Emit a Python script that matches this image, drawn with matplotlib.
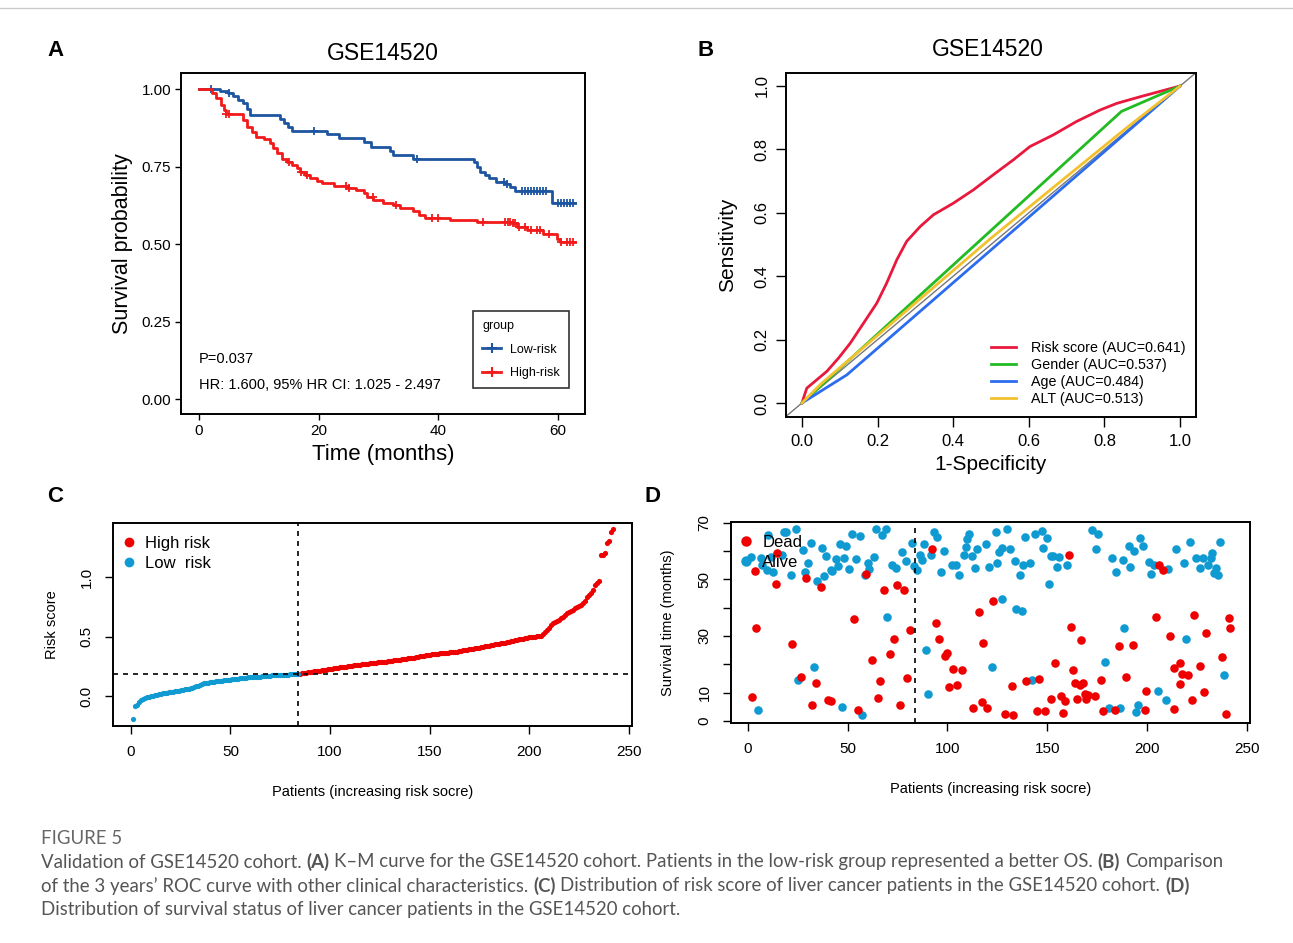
import numpy as np
import matplotlib
matplotlib.use('Agg')
import matplotlib.pyplot as plt
from matplotlib.lines import Line2D

plt.rcParams['font.family'] = ['Liberation Sans', 'DejaVu Sans']

# ---------------- data ----------------
# A: Kaplan-Meier steps (event time in months, survival after the step) and censor times
low_event_t = [3.5, 4.8, 5.7, 6.6, 7.4, 8.0, 8.6, 13.6, 14.2, 14.9, 15.5, 21.4, 23.4, 27.5,
               28.8, 31.9, 32.5, 35.8, 45.9, 46.4, 47.0, 47.8, 48.4, 49.7, 51.2, 52.0, 52.8, 59.0]
low_event_s = [0.995, 0.99, 0.978, 0.967, 0.956, 0.937, 0.917, 0.906, 0.893, 0.88, 0.866, 0.856,
               0.844, 0.829, 0.813, 0.802, 0.790, 0.777, 0.767, 0.750, 0.734, 0.724, 0.713, 0.702,
               0.695, 0.684, 0.673, 0.635]
low_cens_t = [2.0, 5.0, 19.2, 36.5, 51.0, 51.5, 54.0, 54.5, 55.0, 55.5, 56.0, 56.5, 57.0, 57.5,
              58.0, 60.0, 60.5, 61.0, 61.5, 62.0, 62.5]
high_event_t = [2.2, 2.8, 3.6, 4.2, 4.5, 7.4, 8.0, 8.8, 9.6, 10.8, 11.9, 12.4, 13.0, 13.8, 14.7,
                15.5, 16.3, 16.9, 17.7, 18.5, 19.7, 20.5, 22.5, 24.7, 26.3, 27.5, 28.0, 29.1,
                30.8, 32.5, 33.6, 35.8, 36.7, 37.8, 42.0, 46.4, 52.2, 53.1, 54.8, 57.5, 59.8, 60.3]
high_event_s = [0.989, 0.971, 0.949, 0.935, 0.922, 0.901, 0.880, 0.863, 0.847, 0.839, 0.826, 0.810,
                0.794, 0.777, 0.767, 0.756, 0.745, 0.734, 0.724, 0.713, 0.705, 0.697, 0.688, 0.681,
                0.675, 0.665, 0.654, 0.643, 0.634, 0.627, 0.616, 0.609, 0.595, 0.584, 0.578, 0.573,
                0.568, 0.557, 0.546, 0.535, 0.519, 0.508]
high_cens_t = [4.5, 5.0, 15.0, 17.0, 18.0, 24.5, 25.0, 29.0, 33.0, 39.0, 40.0, 47.5, 51.2, 51.6,
               52.0, 52.4, 52.8, 53.5, 54.5, 55.5, 56.5, 57.0, 58.5, 60.5, 61.5, 62.0, 62.5]
km_end = 62.8
km_groups = ['Low-risk', 'High-risk']

# B: ROC curves (1-specificity, sensitivity)
roc_labels = ['Risk score (AUC=0.641)', 'Gender (AUC=0.537)', 'Age (AUC=0.484)', 'ALT (AUC=0.513)']
risk_fpr = [0, 0.013, 0.04, 0.066, 0.097, 0.128, 0.163, 0.198, 0.224, 0.251, 0.277, 0.313, 0.348,
            0.4, 0.453, 0.506, 0.559, 0.603, 0.665, 0.726, 0.788, 0.832, 0.894, 1.0]
risk_tpr = [0, 0.047, 0.074, 0.1, 0.142, 0.189, 0.252, 0.315, 0.378, 0.452, 0.51, 0.557, 0.594,
            0.63, 0.672, 0.72, 0.767, 0.809, 0.846, 0.888, 0.924, 0.945, 0.966, 1.0]
gender_fpr = [0, 0.845, 1.0]
gender_tpr = [0, 0.92, 1.0]
age_fpr = [0, 0.119, 1.0]
age_tpr = [0, 0.089, 1.0]
alt_fpr = [0, 0.05, 0.5, 0.85, 1.0]
alt_tpr = [0, 0.06, 0.52, 0.86, 1.0]

# C: sorted risk scores
risk_cutoff = 0.188
risk_score = [
    -0.19, -0.085, -0.075, -0.05, -0.035, -0.025, -0.02, -0.012, -0.008, -0.003,
    0.0, 0.005, 0.01, 0.014, 0.018, 0.022, 0.025, 0.028, 0.031, 0.034,
    0.037, 0.040, 0.043, 0.046, 0.049, 0.052, 0.055, 0.057, 0.060, 0.064,
    0.070, 0.076, 0.082, 0.088, 0.094, 0.100, 0.106, 0.110, 0.113, 0.116,
    0.119, 0.122, 0.124, 0.126, 0.128, 0.130, 0.132, 0.134, 0.136, 0.138,
    0.140, 0.142, 0.144, 0.146, 0.148, 0.150, 0.152, 0.154, 0.156, 0.157,
    0.158, 0.160, 0.161, 0.162, 0.164, 0.165, 0.166, 0.168, 0.169, 0.171,
    0.173, 0.174, 0.175, 0.176, 0.177, 0.178, 0.179, 0.180, 0.181, 0.182,
    0.184, 0.185, 0.186, 0.187,
    0.189, 0.192, 0.194, 0.197, 0.199, 0.202, 0.204, 0.207, 0.209, 0.212,
    0.214, 0.217, 0.219, 0.222, 0.225, 0.228,
    0.230, 0.233, 0.235, 0.238, 0.240, 0.243, 0.245, 0.248, 0.250, 0.252, 0.255, 0.257, 0.260, 0.262,
    0.264, 0.266, 0.268, 0.270, 0.272, 0.274, 0.276, 0.278, 0.280, 0.282, 0.284, 0.286, 0.288, 0.290,
    0.292, 0.295, 0.297, 0.299, 0.302, 0.304, 0.306, 0.309, 0.311, 0.313, 0.316, 0.318,
    0.321, 0.324, 0.327, 0.330, 0.333, 0.336, 0.339, 0.342, 0.345, 0.348, 0.351, 0.354,
    0.356, 0.357, 0.359, 0.361, 0.362, 0.364, 0.366, 0.367, 0.369, 0.371, 0.372, 0.374,
    0.377, 0.380, 0.383, 0.386, 0.389, 0.392, 0.395, 0.398, 0.401, 0.404, 0.408, 0.411,
    0.414, 0.417, 0.421, 0.424, 0.427, 0.431, 0.434, 0.437, 0.440, 0.443, 0.447, 0.450,
    0.454, 0.457, 0.461, 0.465, 0.468, 0.472, 0.476, 0.479, 0.483, 0.487,
    0.490, 0.493, 0.495, 0.498, 0.500, 0.503, 0.506, 0.509,
    0.520, 0.535, 0.555, 0.575, 0.595, 0.613,
    0.625, 0.635, 0.641, 0.655, 0.668, 0.682, 0.697, 0.705,
    0.715, 0.725, 0.739, 0.748, 0.758, 0.768, 0.781, 0.795,
    0.830, 0.851, 0.865, 0.893, 0.930, 0.950, 0.965, 1.185, 1.190, 1.200, 1.285, 1.300, 1.383, 1.403]

# D: survival time by patient (alive / dead)
alive_x = [1.6, 10.4, 6.6, 7.4, 9.9, 11.6, 17.4, 18.3, 19.4, 24.1, 12.8, 21.6, 27.8, 31.6, 30.4,
           28.6, 37.4, 39.4, 34.9, 38.3, 41.6, 33.3, 25.4, 5.4,
           52.4, 56.1, 64.1, 69.1, 67.1, 46.1, 49.4, 44.1, 48.3, 54.1, 45.4, 42.4, 50.8, 60.3,
           63.3, 58.8, 60.8, 72.1, 74.1, 77.1, 79.1, 82.1, 83.3, 84.9, 86.1, 87.4, 88.3, 91.6,
           93.3, 94.9, 96.6, 69.9, 89.1, 47.1, 57.4, 90.4,
           98.3, 105.8, 102.1, 104.1, 110.8, 109.9, 109.1, 108.3, 112.1, 114.9, 119.1, 113.8,
           124.1, 129.9, 120.8, 124.9, 125.8, 127.4, 131.1, 133.8, 136.1, 137.8, 141.1, 138.8,
           143.8, 147.1, 147.8, 149.9, 150.8, 151.6, 127.1, 134.4, 137.1, 122.1, 142.4,
           152.8, 155.8, 154.9, 159.9, 172.4, 175.4, 174.4, 182.1, 184.4, 187.8, 190.8, 193.3,
           196.6, 197.8, 191.6, 200.8, 202.1, 203.3, 188.6, 178.8, 180.8, 186.6, 195.4, 194.4,
           205.4, 210.5, 214.4, 218.4, 221.4, 224.3, 226.3, 227.9, 230.3, 231.9, 232.3, 233.3,
           234.6, 235.2, 236.2, 219.4, 238.2, 209.5]
alive_y = [57.9, 65.5, 57.5, 55.0, 53.2, 57.9, 58.5, 66.5, 66.7, 67.9, 52.4, 51.6, 60.2, 62.9, 55.9,
           52.5, 61.1, 58.2, 49.3, 51.2, 53.2, 19.1, 14.4, 3.8,
           66.1, 65.3, 67.7, 67.7, 65.5, 62.6, 61.8, 57.3, 57.5, 57.3, 54.7, 52.8, 53.5, 55.9,
           57.9, 51.6, 53.5, 55.2, 54.0, 59.7, 56.4, 62.9, 54.7, 53.2, 58.5, 56.7, 62.3, 58.5,
           66.5, 64.9, 52.4, 36.7, 25.2, 4.9, 2.2, 9.6,
           59.9, 51.4, 55.0, 55.2, 65.8, 64.1, 61.4, 58.7, 58.2, 60.6, 62.3, 53.8,
           66.7, 67.9, 54.4, 55.6, 59.5, 60.9, 60.6, 56.4, 51.4, 55.2, 55.9, 64.9,
           65.8, 66.9, 61.1, 64.7, 48.5, 58.2, 42.9, 39.6, 38.7, 19.1, 14.3,
           58.2, 57.9, 54.3, 54.9, 67.3, 65.8, 60.8, 57.5, 52.4, 56.7, 61.8, 59.9,
           64.6, 61.8, 54.3, 56.1, 52.0, 54.9, 32.9, 20.8, 4.6, 4.6, 5.6, 3.2,
           10.5, 53.5, 60.7, 55.9, 63.1, 57.4, 53.9, 57.4, 55.1, 57.4, 59.4, 52.1,
           53.9, 51.5, 63.3, 28.8, 16.3, 7.4]
dead_x = [3.6, 14.6, 14.4, 29.4, 36.6, 4.4, 22.4, 26.6, 34.4, 2.4, 32.4, 40.4,
          59.1, 92.1, 68.3, 74.9, 78.3, 53.3, 81.1, 94.1, 95.8, 73.3, 71.1, 62.4, 66.1, 79.9,
          65.3, 41.6, 55.3, 76.1,
          122.8, 115.8, 99.9, 98.8, 117.9, 102.8, 107.1, 100.8, 104.9, 132.1, 139.4, 145.8,
          112.8, 117.1, 119.9, 128.8, 132.8, 144.9, 148.8,
          160.8, 206.1, 161.6, 166.6, 204.4, 185.8, 192.8, 153.8, 162.8, 189.4, 176.6, 163.8,
          166.1, 167.8, 168.8, 170.4, 173.8, 169.4, 164.9, 156.6, 151.6, 158.8, 157.8, 177.8,
          183.8, 198.8, 199.4,
          208.1, 211.5, 223.3, 229.2, 241.1, 241.6, 237.2, 216.5, 213.5, 226.2, 217.4, 220.4,
          216.3, 228.3, 213.5, 222.4, 239.2]
dead_y = [52.9, 59.1, 48.5, 50.5, 47.3, 32.8, 27.3, 15.5, 13.5, 8.5, 5.8, 7.3,
          52.0, 60.8, 46.1, 48.1, 46.1, 36.1, 32.0, 34.7, 28.8, 29.0, 23.5, 21.4, 14.1, 15.3,
          8.1, 6.9, 3.8, 5.6,
          42.2, 38.3, 24.1, 22.9, 27.6, 18.2, 17.9, 12.0, 12.8, 12.4, 14.0, 14.9,
          4.6, 6.7, 4.6, 2.6, 2.0, 3.4, 3.4,
          58.5, 55.2, 33.2, 28.5, 36.7, 26.6, 26.9, 20.5, 18.0, 15.5, 14.3, 13.5,
          12.8, 13.5, 9.7, 9.3, 9.0, 7.8, 7.6, 9.0, 7.8, 7.2, 2.9, 3.5,
          3.8, 3.8, 10.5,
          53.3, 30.1, 37.4, 30.9, 36.5, 32.7, 22.7, 20.5, 18.7, 19.5, 16.5, 16.3,
          12.9, 10.1, 4.1, 7.4, 2.4]
n_low = 84

# ---------------- style ----------------
W, H = 1293, 943
KM_BLUE = '#1D55A0'
KM_RED = '#F21A1A'
ROC_COLORS = ['#E8193C', '#22BB22', '#2C6CF0', '#F2C12E']
PT_RED = '#EE0000'
PT_CYAN = '#0F9BD2'
CAP_COLOR = '#555555'

fig = plt.figure(figsize=(W / 100, H / 100), dpi=100)


def px_axes(left, top, right, bottom):
    return fig.add_axes([left / W, 1 - bottom / H, (right - left) / W, (bottom - top) / H])


def surv_at(times, t_events, s_events):
    idx = np.searchsorted(t_events, times, side='right')
    s = np.array([1.0] + list(s_events))
    return s[idx]


def base_style(ax, size, length, pad):
    for sp in ax.spines.values():
        sp.set_linewidth(1.4)
    ax.tick_params(direction='out', length=length, width=1, labelsize=size, pad=pad)


# ---------------- A: KM ----------------
axA = px_axes(181, 73, 585, 414)
for ev_t, ev_s, c_t, col in [(low_event_t, low_event_s, low_cens_t, KM_BLUE),
                             (high_event_t, high_event_s, high_cens_t, KM_RED)]:
    tt = [0] + ev_t + [km_end]
    ss = [1.0] + ev_s + [ev_s[-1]]
    axA.step(tt, ss, where='post', color=col, lw=2)
    axA.plot(c_t, surv_at(c_t, ev_t, ev_s), '+', color=col, ms=6, mew=1.3)
axA.set_xlim(-3, 64.5)
axA.set_ylim(-0.047, 1.053)
axA.set_xticks([0, 20, 40, 60])
axA.set_yticks([0, 0.25, 0.5, 0.75, 1.0])
axA.set_yticklabels(['0.00', '0.25', '0.50', '0.75', '1.00'])
base_style(axA, 11, 4, 3)
axA.set_ylabel('Survival probability', fontsize=15.5)
axA.yaxis.set_label_coords(-0.146, 0.5)
axA.yaxis.label.set_va('center')
axA.set_xlabel('Time (months)', fontsize=16)
axA.xaxis.set_label_coords(0.5, -0.120)
axA.xaxis.label.set_va('center')
axA.text(0.5, 1.058, 'GSE14520', transform=axA.transAxes, ha='center', va='center', fontsize=16.5)
axA.text(0, 0.132, 'P=0.037', fontsize=10.5, va='center')
axA.text(0, 0.046, 'HR: 1.600, 95% HR CI: 1.025 - 2.497', fontsize=10.5, va='center')
km_handles = [Line2D([], [], color=KM_BLUE, lw=2, marker='+', ms=7, mew=1.5),
              Line2D([], [], color=KM_RED, lw=2, marker='+', ms=7, mew=1.5)]
legA = axA.legend(km_handles, km_groups, title='group', loc='upper left',
                  bbox_to_anchor=(0.723, 0.302), fontsize=9, title_fontsize=9,
                  frameon=True, fancybox=False, edgecolor='black', borderpad=0.75,
                  labelspacing=0.9, handlelength=1.5, handletextpad=0.7, borderaxespad=0,
                  alignment='left')
legA.get_frame().set_linewidth(1.2)

# ---------------- B: ROC ----------------
axB = px_axes(786, 73, 1196, 417)
axB.axline((0, 0), (1, 1), color='#777777', lw=1)
roc_data = [(risk_fpr, risk_tpr), (gender_fpr, gender_tpr), (age_fpr, age_tpr), (alt_fpr, alt_tpr)]
for (fx, fy), col, lab in zip(roc_data, ROC_COLORS, roc_labels):
    axB.plot(fx, fy, color=col, lw=2, label=lab)
axB.set_xlim(-0.042, 1.042)
axB.set_ylim(-0.044, 1.041)
ticks = [0, 0.2, 0.4, 0.6, 0.8, 1.0]
axB.set_xticks(ticks)
axB.set_yticks(ticks)
axB.set_xticklabels([f'{v:.1f}' for v in ticks])
axB.set_yticklabels([f'{v:.1f}' for v in ticks])
base_style(axB, 12, 7, 5)
axB.tick_params(axis='y', labelrotation=90)
plt.setp(axB.get_yticklabels(), va='center')
axB.set_ylabel('Sensitivity', fontsize=15)
axB.yaxis.set_label_coords(-0.1415, 0.5)
axB.yaxis.label.set_va('center')
axB.set_xlabel('1-Specificity', fontsize=15)
axB.xaxis.set_label_coords(0.5, -0.1395)
axB.xaxis.label.set_va('center')
axB.text(0.493, 1.067, 'GSE14520', transform=axB.transAxes, ha='center', va='center', fontsize=16.5)
axB.legend(loc='lower right', frameon=False, fontsize=10.3, handlelength=1.8,
           labelspacing=0.22, borderaxespad=0.35, handletextpad=1.0)

# ---------------- C: risk score ----------------
axC = px_axes(113, 523, 632, 726)
patients = np.arange(1, len(risk_score) + 1)
scores = np.array(risk_score)
is_high = scores > risk_cutoff
axC.scatter(patients[is_high], scores[is_high], s=14, color=PT_RED, lw=0)
axC.scatter(patients[~is_high], scores[~is_high], s=14, color=PT_CYAN, lw=0)
axC.axvline(n_low, color='black', lw=1.2, ls=(0, (3, 3)))
axC.axhline(risk_cutoff, color='black', lw=1.2, ls=(0, (3, 3)))
axC.set_xlim(-8.9, 251.6)
axC.set_ylim(-0.252, 1.455)
axC.set_xticks([0, 50, 100, 150, 200, 250])
axC.set_yticks([0.0, 0.5, 1.0])
axC.set_yticklabels(['0.0', '0.5', '1.0'])
base_style(axC, 11, 6, 8)
axC.tick_params(axis='y', labelrotation=90)
plt.setp(axC.get_yticklabels(), va='center')
axC.set_ylabel('Risk score', fontsize=10.5)
axC.yaxis.set_label_coords(-0.1175, 0.5)
axC.yaxis.label.set_va('center')
axC.set_xlabel('Patients (increasing risk socre)', fontsize=10.5)
axC.xaxis.set_label_coords(0.5, -0.325)
axC.xaxis.label.set_va('center')
c_handles = [Line2D([], [], ls='none', marker='o', ms=6, color=PT_RED),
             Line2D([], [], ls='none', marker='o', ms=6, color=PT_CYAN)]
axC.legend(c_handles, ['High risk', 'Low  risk'], loc='upper left', bbox_to_anchor=(0.015, 0.935),
           frameon=False, fontsize=12, borderaxespad=0, borderpad=0, handlelength=1.0,
           handletextpad=0.45, labelspacing=0.3)

# ---------------- D: survival status ----------------
axD = px_axes(731, 522, 1250, 723)
axD.scatter(alive_x, alive_y, s=38, color=PT_CYAN, lw=0)
axD.scatter(dead_x, dead_y, s=38, color=PT_RED, lw=0)
axD.axvline(n_low, color='black', lw=1.2, ls=(0, (3, 3)))
axD.set_xlim(-8.3, 251.4)
axD.set_ylim(-0.7, 70.2)
axD.set_xticks([0, 50, 100, 150, 200, 250])
axD.set_yticks([0, 10, 20, 30, 40, 50, 60, 70])
axD.set_yticklabels(['0', '10', '', '30', '', '50', '', '70'])
base_style(axD, 11, 6, 8)
axD.tick_params(axis='y', labelrotation=90)
plt.setp(axD.get_yticklabels(), va='center')
axD.set_ylabel('Survival time (months)', fontsize=10.5)
axD.yaxis.set_label_coords(-0.1207, 0.5)
axD.yaxis.label.set_va('center')
axD.set_xlabel('Patients (increasing risk socre)', fontsize=10.5)
axD.xaxis.set_label_coords(0.5, -0.328)
axD.xaxis.label.set_va('center')
d_handles = [Line2D([], [], ls='none', marker='o', ms=6.5, color=PT_RED),
             Line2D([], [], ls='none', marker='o', ms=6.5, color=PT_CYAN)]
axD.legend(d_handles, ['Dead', 'Alive'], loc='upper left', bbox_to_anchor=(0.012, 0.935),
           frameon=False, fontsize=12, borderaxespad=0, borderpad=0, handlelength=1.0,
           handletextpad=0.5, labelspacing=0.3)

# ---------------- panel letters, rule, caption ----------------
for letter, x, y in [('A', 55, 50), ('B', 706, 50), ('C', 55, 497), ('D', 652, 497)]:
    fig.text(x / W, 1 - y / H, letter, fontsize=16, fontweight='bold', ha='center', va='center')

fig.add_artist(Line2D([0, 1], [1 - 8 / H, 1 - 8 / H], color='#cccccc', lw=1))

CAP_FONT = ['Lato', 'DejaVu Sans']
cap_lines = [
    [('Validation of GSE14520 cohort.', False), ('(A)', True),
     ('K–M curve for the GSE14520 cohort. Patients in the low-risk group represented a better OS.', False),
     ('(B)', True), ('Comparison', False)],
    [('of the 3 years’ ROC curve with other clinical characteristics.', False), ('(C)', True),
     ('Distribution of risk score of liver cancer patients in the GSE14520 cohort.', False), ('(D)', True)],
    [('Distribution of survival status of liver cancer patients in the GSE14520 cohort.', False)],
]
cap_y = [862, 886, 910]
renderer = fig.canvas.get_renderer()


def draw_runs(runs, x_px, y_px, size):
    a = fig.text(0, 0, 'x x', fontsize=size, family=CAP_FONT)
    b = fig.text(0, 0, 'xx', fontsize=size, family=CAP_FONT)
    space = a.get_window_extent(renderer).width - b.get_window_extent(renderer).width
    a.remove()
    b.remove()
    x = x_px
    made = []
    for i, (txt, bold) in enumerate(runs):
        if i:
            x += space
        t = fig.text(x / W, 1 - y_px / H, txt, fontsize=size, family=CAP_FONT, color=CAP_COLOR,
                     fontweight='bold' if bold else 'normal', va='center')
        x += t.get_window_extent(renderer).width
        made.append(t)
    return made, x


trial, end_x = draw_runs(cap_lines[0], 41, cap_y[0], 12)
for t in trial:
    t.remove()
cap_size = 12 * (1220 - 41) / (end_x - 41)
for runs, y in zip(cap_lines, cap_y):
    draw_runs(runs, 41, y, cap_size)
fig.text(41 / W, 1 - 838 / H, 'FIGURE 5', fontsize=cap_size, family=CAP_FONT, color='#666666',
         va='center')

fig.savefig('out.png', dpi=100)
